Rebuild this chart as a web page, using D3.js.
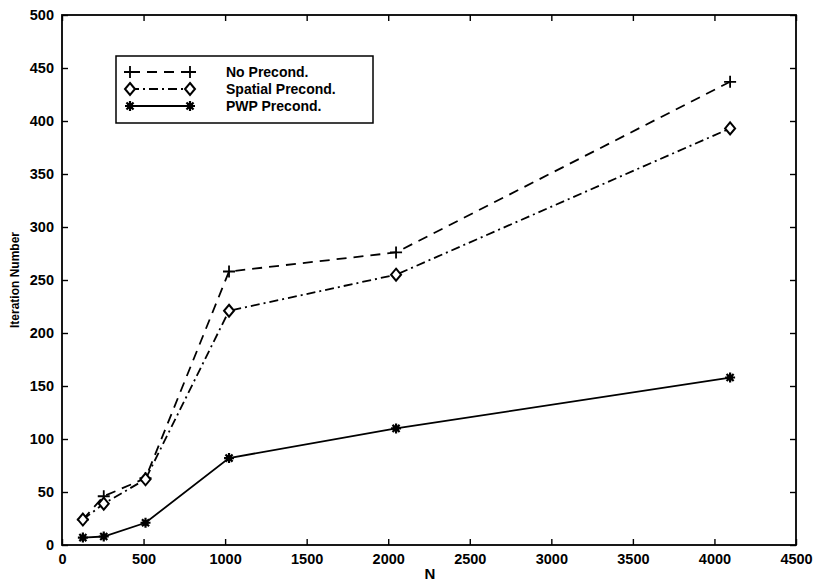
<html>
    <head>
        <title>Iteration number vs N</title>
        <style>
            body { margin: 0; background: #fff; }
            text { font-family: "Liberation Sans", Arial, Helvetica, sans-serif; fill: #000; }
        </style>
    </head>
    <body>
        <svg id="container" width="817" height="586"></svg>
    </body>
    <script src="https://d3js.org/d3.v7.min.js"></script>
    <script>
        // data
        let sizes = [128, 256, 512, 1024, 2048, 4096]
        let noPrecond = [24, 46, 63, 258, 276, 437]
        let spatialPrecond = [24, 39, 62, 221, 255, 393]
        let pwpPrecond = [7, 8, 21, 82, 110, 158]
        let seriesNames = ["No Precond.", "Spatial Precond.", "PWP Precond."]
        let xTicks = [0, 500, 1000, 1500, 2000, 2500, 3000, 3500, 4000, 4500]
        let yTicks = [0, 50, 100, 150, 200, 250, 300, 350, 400, 450, 500]

        let svg = d3.select("#container")
        let plotLeft = 62, plotRight = 796, plotTop = 15, plotBottom = 545

        let x = d3.scaleLinear().domain([0, 4500]).range([plotLeft, plotRight])
        let y = d3.scaleLinear().domain([0, 500]).range([plotBottom, plotTop])

        let series = [
            {name: seriesNames[0], values: noPrecond, dash: "10,7", marker: "plus"},
            {name: seriesNames[1], values: spatialPrecond, dash: "9,4,2,4", marker: "diamond"},
            {name: seriesNames[2], values: pwpPrecond, dash: null, marker: "star"}
        ]

        // axes, ticks pointing in, mirrored on top and right
        let tickFont = g => g.selectAll("text")
                             .style("font-size", "14.5px")
                             .style("font-weight", "bold")
                             .style("font-family", "'Liberation Sans', Arial, sans-serif")
        let clean = g => {
            g.select(".domain").remove()
            g.selectAll("line").attr("stroke", "#000").attr("stroke-width", 1.4)
        }
        let plain = d3.format("d")

        svg.append("g").attr("transform", `translate(0,${plotBottom})`)
           .call(d3.axisBottom(x).tickValues(xTicks).tickFormat(plain).tickSizeInner(-6).tickPadding(9))
           .call(clean).call(tickFont)
        svg.append("g").attr("transform", `translate(0,${plotTop})`)
           .call(d3.axisTop(x).tickValues(xTicks).tickSizeInner(-6).tickFormat(""))
           .call(clean)
        svg.append("g").attr("transform", `translate(${plotLeft},0)`)
           .call(d3.axisLeft(y).tickValues(yTicks).tickFormat(plain).tickSizeInner(-6).tickPadding(8))
           .call(clean).call(tickFont)
        svg.append("g").attr("transform", `translate(${plotRight},0)`)
           .call(d3.axisRight(y).tickValues(yTicks).tickSizeInner(-6).tickFormat(""))
           .call(clean)

        svg.append("rect")
           .attr("x", plotLeft).attr("y", plotTop)
           .attr("width", plotRight - plotLeft).attr("height", plotBottom - plotTop)
           .attr("fill", "none").attr("stroke", "#000").attr("stroke-width", 1.8)

        // labels
        svg.append("text").attr("x", 430).attr("y", 579)
           .attr("text-anchor", "middle")
           .style("font-size", "15px").style("font-weight", "bold")
           .text("N")
        svg.append("text")
           .attr("transform", "translate(19,280) rotate(-90)")
           .attr("text-anchor", "middle")
           .style("font-size", "12px").style("font-weight", "bold")
           .text("Iteration Number")

        function drawMarker(g, type, cx, cy) {
            if (type == "plus") {
                g.append("path")
                 .attr("d", `M${cx - 6},${cy}H${cx + 6}M${cx},${cy - 6}V${cy + 6}`)
                 .attr("stroke", "#000").attr("stroke-width", 1.8)
            } else if (type == "diamond") {
                g.append("path")
                 .attr("d", `M${cx},${cy - 6}L${cx + 5},${cy}L${cx},${cy + 6}L${cx - 5},${cy}Z`)
                 .attr("stroke", "#000").attr("stroke-width", 2).attr("fill", "#fff")
            } else {
                let s = 5
                let p = ""
                for (let a = 0; a < 4; a++) {
                    let t = a * Math.PI / 4
                    p += `M${cx - s * Math.cos(t)},${cy - s * Math.sin(t)}L${cx + s * Math.cos(t)},${cy + s * Math.sin(t)}`
                }
                g.append("path").attr("d", p)
                 .attr("stroke", "#000").attr("stroke-width", 2.2)
                g.append("circle").attr("cx", cx).attr("cy", cy).attr("r", 3).attr("fill", "#000")
            }
        }

        let line = d3.line().x((d, i) => x(sizes[i])).y(d => y(d))

        series.forEach(s => {
            let g = svg.append("g")
            g.append("path")
             .datum(s.values)
             .attr("d", line)
             .attr("fill", "none")
             .attr("stroke", "#000")
             .attr("stroke-width", 1.8)
             .attr("stroke-dasharray", s.dash)
            s.values.forEach((v, i) => drawMarker(g, s.marker, x(sizes[i]), y(v)))
        })

        // legend
        let legend = svg.append("g")
        legend.append("rect")
              .attr("x", 116).attr("y", 56).attr("width", 257).attr("height", 67)
              .attr("fill", "#fff").attr("stroke", "#000").attr("stroke-width", 1.5)
        series.forEach((s, i) => {
            let ly = 72 + i * 17
            let g = legend.append("g")
            g.append("line").attr("x1", 130).attr("x2", 190).attr("y1", ly).attr("y2", ly)
             .attr("stroke", "#000").attr("stroke-width", 1.8)
             .attr("stroke-dasharray", s.dash)
            drawMarker(g, s.marker, 130, ly)
            drawMarker(g, s.marker, 190, ly)
            g.append("text").attr("x", 226).attr("y", ly + 5)
             .style("font-size", "14px").style("font-weight", "bold")
             .text(s.name)
        })
    </script>
</html>
